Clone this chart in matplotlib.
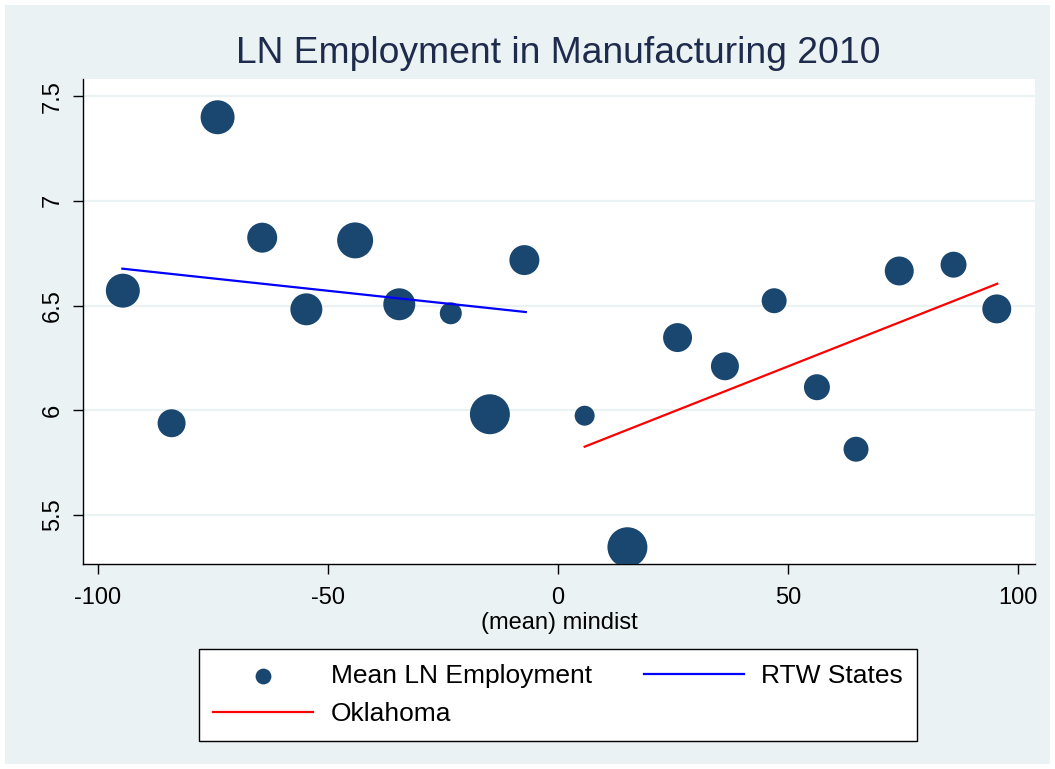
import matplotlib
matplotlib.use("Agg")
import matplotlib.pyplot as plt
from matplotlib.patches import Rectangle

plt.rcParams['font.family'] = ['Liberation Sans', 'DejaVu Sans']
plt.rcParams['axes.unicode_minus'] = False

# Mean distance (binned) and mean log employment in manufacturing, 2010
mindist = [-94.6, -84.0, -74.0, -64.3, -54.7, -44.1, -34.5, -23.3, -14.8, -7.3,
           5.8, 15.1, 26.0, 36.3, 47.0, 56.3, 64.8, 74.2, 86.0, 95.4]
ln_emp = [6.571, 5.938, 7.399, 6.824, 6.482, 6.811, 6.506, 6.463, 5.981, 6.717,
          5.974, 5.346, 6.347, 6.210, 6.523, 6.110, 5.814, 6.665, 6.695, 6.484]
# frequency weights used for marker area
n_obs = [289, 196, 289, 225, 256, 324, 256, 121, 400, 225,
         100, 400, 210, 196, 156, 169, 156, 210, 169, 210]

# linear fits on each side of the border
rtw_x = [-94.7, -7.0]
rtw_fit = [6.676, 6.469]
ok_x = [5.8, 95.5]
ok_fit = [5.826, 6.604]

navy = '#1a476f'
bg = '#eaf2f3'

fig = plt.figure(figsize=(10.55, 7.69), dpi=100, facecolor='white')
fig.patches.append(Rectangle((5 / 1055, 5 / 769), 1045 / 1055, 759 / 769,
                             transform=fig.transFigure, facecolor=bg,
                             edgecolor='none', zorder=-5))

ax = fig.add_axes([0.0785, 0.2666, 0.9025, 0.6305])
ax.set_zorder(2)
ax.set_facecolor('white')

sizes = [2.07 * w for w in n_obs]
sc = ax.scatter(mindist, ln_emp, s=sizes, color=navy, linewidths=0, zorder=3,
                label='Mean LN Employment')
l_rtw, = ax.plot(rtw_x, rtw_fit, color='#0000ff', lw=1.6, zorder=4, label='RTW States')
l_ok, = ax.plot(ok_x, ok_fit, color='#ff0000', lw=1.6, zorder=4, label='Oklahoma')

ax.set_xlim(-103.3, 103.7)
ax.set_ylim(5.266, 7.581)
ax.set_xticks([-100, -50, 0, 50, 100])
ax.set_yticks([5.5, 6, 6.5, 7, 7.5])
ax.set_yticklabels(['5.5', '6', '6.5', '7', '7.5'], rotation=90, va='center')
ax.grid(axis='y', color=bg, lw=1.6, zorder=1)
ax.grid(axis='x', visible=False)
ax.set_axisbelow(True)

for side in ['top', 'right']:
    ax.spines[side].set_visible(False)
for side in ['left', 'bottom']:
    ax.spines[side].set_color('black')
    ax.spines[side].set_linewidth(1.0)
ax.tick_params(axis='both', direction='out', length=7.5, width=1.0,
               labelsize=17, colors='black')
ax.tick_params(axis='y', pad=6)
ax.tick_params(axis='x', pad=9)

ax.set_xlabel('(mean) mindist', fontsize=17, labelpad=2)
fig.text(0.529, 0.930, 'LN Employment in Manufacturing 2010', ha='center',
         va='center', fontsize=26.8, color='#1e2b4d')

leg = fig.legend([sc, l_ok, l_rtw], ['Mean LN Employment', 'Oklahoma', 'RTW States'],
                 loc='center', bbox_to_anchor=(0.5289, 0.0962), ncol=2,
                 fontsize=19, frameon=True, fancybox=False, framealpha=1,
                 handlelength=3.8, handletextpad=0.65, columnspacing=1.97,
                 borderpad=0.55, labelspacing=0.55, borderaxespad=0)
leg.set_zorder(3)
leg.get_frame().set_edgecolor('black')
leg.get_frame().set_linewidth(1.0)
leg.legend_handles[0].set_sizes([130])

fig.savefig('out.png', dpi=100, facecolor=fig.get_facecolor())
